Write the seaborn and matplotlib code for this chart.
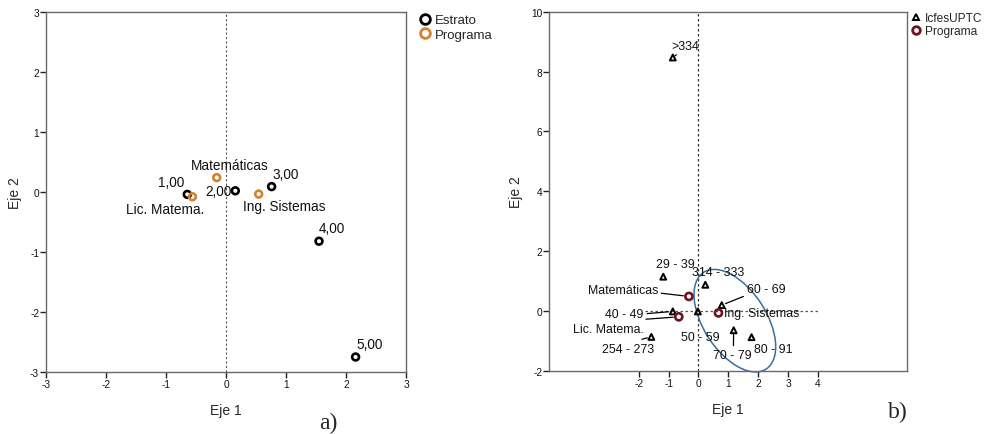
import numpy as np
import pandas as pd
import matplotlib
matplotlib.use("Agg")
import matplotlib.pyplot as plt
from matplotlib.lines import Line2D
from matplotlib.patches import Ellipse
import seaborn as sns

# ---------------- data: panel a) ----------------
estrato_labels = ["1,00", "2,00", "3,00", "4,00", "5,00"]
estrato_x = [-0.645, 0.155, 0.76, 1.55, 2.16]
estrato_y = [-0.04, 0.02, 0.09, -0.82, -2.75]

prog_a_labels = ["Lic. Matema.", "Matemáticas", "Ing. Sistemas"]
prog_a_x = [-0.56, -0.155, 0.545]
prog_a_y = [-0.08, 0.24, -0.035]

ticks_a = [-3, -2, -1, 0, 1, 2, 3]

# ---------------- data: panel b) ----------------
icfes_labels = [">334", "29 - 39", "314 - 333", "60 - 69", "40 - 49",
                "50 - 59", "70 - 79", "80 - 91", "254 - 273"]
icfes_x = [-0.86, -1.18, 0.23, 0.78, -0.86, -0.02, 1.18, 1.78, -1.58]
icfes_y = [8.47, 1.15, 0.88, 0.20, -0.01, -0.01, -0.64, -0.87, -0.86]

prog_b_labels = ["Matemáticas", "Lic. Matema.", "Ing. Sistemas"]
prog_b_x = [-0.32, -0.66, 0.67]
prog_b_y = [0.49, -0.19, -0.06]

xticks_b = [-2, -1, 0, 1, 2, 3, 4]
yticks_b = [-2, 0, 2, 4, 6, 8, 10]

# ---------------- style ----------------
sns.set_style("ticks")
plt.rcParams["font.family"] = ["Liberation Sans", "DejaVu Sans"]
plt.rcParams["axes.unicode_minus"] = False

ORANGE = "#d4822f"
DARKRED = "#6e1420"
BLUE = "#3b6e9e"
SPINE = "#6a6a6a"

fig = plt.figure(figsize=(9.84, 4.35), dpi=100)
W, H = 984, 435
ax1 = fig.add_axes([46 / W, (H - 373) / H, 360 / W, 360 / H])
ax2 = fig.add_axes([549.3 / W, (H - 372) / H, 358 / W, 359.3 / H])


def style_axes(ax):
    for s in ax.spines.values():
        s.set_color(SPINE)
        s.set_linewidth(1.0)
        s.set_visible(True)
    ax.tick_params(direction="out", length=4, width=1, color="#222222",
                   labelsize=7.3, pad=1, labelcolor="#111111")
    ax.set_xlabel("Eje 1", fontsize=10, labelpad=10)
    ax.set_ylabel("Eje 2", fontsize=10, labelpad=6)


# ---------------- panel a ----------------
dfa_e = pd.DataFrame({"x": estrato_x, "y": estrato_y, "lab": estrato_labels})
dfa_p = pd.DataFrame({"x": prog_a_x, "y": prog_a_y, "lab": prog_a_labels})

ax1.axvline(0, color="#555555", ls=(0, (2, 2)), lw=0.8, zorder=1)
sns.scatterplot(data=dfa_e, x="x", y="y", ax=ax1, marker="o", s=24,
                color="black", facecolors="none", edgecolor="black",
                linewidth=1.9, zorder=3, legend=False)
sns.scatterplot(data=dfa_p, x="x", y="y", ax=ax1, marker="o", s=24,
                color=ORANGE, facecolors="none", edgecolor=ORANGE,
                linewidth=1.9, zorder=3, legend=False)
ax1.set_xlim(-3, 3)
ax1.set_ylim(-3, 3)
ax1.set_xticks(ticks_a)
ax1.set_yticks(ticks_a)
style_axes(ax1)

a_offsets = {
    "1,00": ((-3, 5), "right", "bottom"),
    "2,00": ((-4, 0), "right", "center"),
    "3,00": ((1, 6), "left", "bottom"),
    "4,00": ((0, 6), "left", "bottom"),
    "5,00": ((1, 6), "left", "bottom"),
    "Matemáticas": ((13, 6), "center", "bottom"),
    "Lic. Matema.": ((-27, -5), "center", "top"),
    "Ing. Sistemas": ((26, -5), "center", "top"),
}
for df in (dfa_e, dfa_p):
    for _, r in df.iterrows():
        off, ha, va = a_offsets[r["lab"]]
        ax1.annotate(r["lab"], (r["x"], r["y"]), xytext=off,
                     textcoords="offset pixels", ha=ha, va=va,
                     fontsize=9.8, color="#111111", zorder=4)

# ---------------- panel b ----------------
dfb_i = pd.DataFrame({"x": icfes_x, "y": icfes_y, "lab": icfes_labels})
dfb_p = pd.DataFrame({"x": prog_b_x, "y": prog_b_y, "lab": prog_b_labels})

ax2.axvline(0, color="#333333", ls=(0, (2, 2)), lw=0.9, zorder=1)
ax2.plot([-1.8, 4.0], [0, 0], color="#555555", ls=(0, (2, 2)), lw=0.9,
         zorder=1)
sns.scatterplot(data=dfb_i, x="x", y="y", ax=ax2, marker="^", s=18,
                color="black", facecolors="none", edgecolor="black",
                linewidth=1.4, zorder=3, legend=False)
sns.scatterplot(data=dfb_p, x="x", y="y", ax=ax2, marker="o", s=26,
                color=DARKRED, facecolors="none", edgecolor=DARKRED,
                linewidth=1.9, zorder=3, legend=False)
ax2.set_xlim(-5, 7)
ax2.set_ylim(-2, 10)
ax2.set_xticks(xticks_b)
ax2.set_yticks(yticks_b)
style_axes(ax2)

ax2.add_patch(Ellipse((1.22, -0.32), width=3.85, height=2.1, angle=-57,
                      fill=False, edgecolor=BLUE, lw=1.1, zorder=2,
                      clip_on=False))

# label: (offset px, ha, va, leader relpos or None, shrinkB)
b_offsets = {
    ">334": ((-1, 6), "left", "bottom", (0.35, 0.05), 2),
    "29 - 39": ((12.5, 7), "center", "bottom", None, 0),
    "314 - 333": ((13, 7), "center", "bottom", None, 0),
    "60 - 69": ((25, 10), "left", "bottom", (0.0, 0.0), 3),
    "40 - 49": ((-29, -3), "right", "center", (1.02, 0.55), 3),
    "50 - 59": ((2, -20), "center", "top", None, 0),
    "70 - 79": ((-1, -19), "center", "top", (0.52, 1.3), 3),
    "80 - 91": ((2.5, -6), "left", "top", None, 0),
    "254 - 273": ((-23, -6), "center", "top", (0.76, 1.3), 3),
    "Matemáticas": ((-31, 6), "right", "center", (1.0, 0.3), 4),
    "Lic. Matema.": ((-35, -12), "right", "center", (1.03, 1.3), 4),
    "Ing. Sistemas": ((5.5, -0.5), "left", "center", None, 0),
}
for df in (dfb_i, dfb_p):
    for _, r in df.iterrows():
        off, ha, va, rel, shr = b_offsets[r["lab"]]
        kw = {}
        if rel is not None:
            kw["arrowprops"] = dict(arrowstyle="-", color="black", lw=0.9,
                                    shrinkA=0, shrinkB=shr, relpos=rel)
        ax2.annotate(r["lab"], (r["x"], r["y"]), xytext=off,
                     textcoords="offset pixels", ha=ha, va=va,
                     fontsize=8.9, color="#111111", zorder=4, **kw)

# ---------------- legends ----------------
h_a = [Line2D([], [], ls="none", marker="o", ms=7.0, mfc="none", mec="black",
              mew=2.0),
       Line2D([], [], ls="none", marker="o", ms=7.0, mfc="none", mec=ORANGE,
              mew=2.0)]
fig.legend(h_a, ["Estrato", "Programa"], loc="upper left",
           bbox_to_anchor=(420 / W, 1 - 15 / H), frameon=False,
           fontsize=9.5, handlelength=0.8, handletextpad=0.3,
           labelspacing=0.2, borderaxespad=0, borderpad=0)

h_b = [Line2D([], [], ls="none", marker="^", ms=4.5, mfc="none", mec="black",
              mew=1.4),
       Line2D([], [], ls="none", marker="o", ms=5.5, mfc="none", mec=DARKRED,
              mew=2.0)]
fig.legend(h_b, ["IcfesUPTC", "Programa"], loc="upper left",
           bbox_to_anchor=(911 / W, 1 - 13 / H), frameon=False,
           fontsize=8.6, handlelength=0.8, handletextpad=0.4,
           labelspacing=0.1, borderaxespad=0, borderpad=0)

fig.text(328 / W, 1 - 423 / H, "a)", family=["Liberation Serif", "DejaVu Serif"],
         fontsize=17, ha="center", va="center")
fig.text(898 / W, 1 - 412 / H, "b)", family=["Liberation Serif", "DejaVu Serif"],
         fontsize=17, ha="center", va="center")

fig.savefig("out.png", dpi=100)
